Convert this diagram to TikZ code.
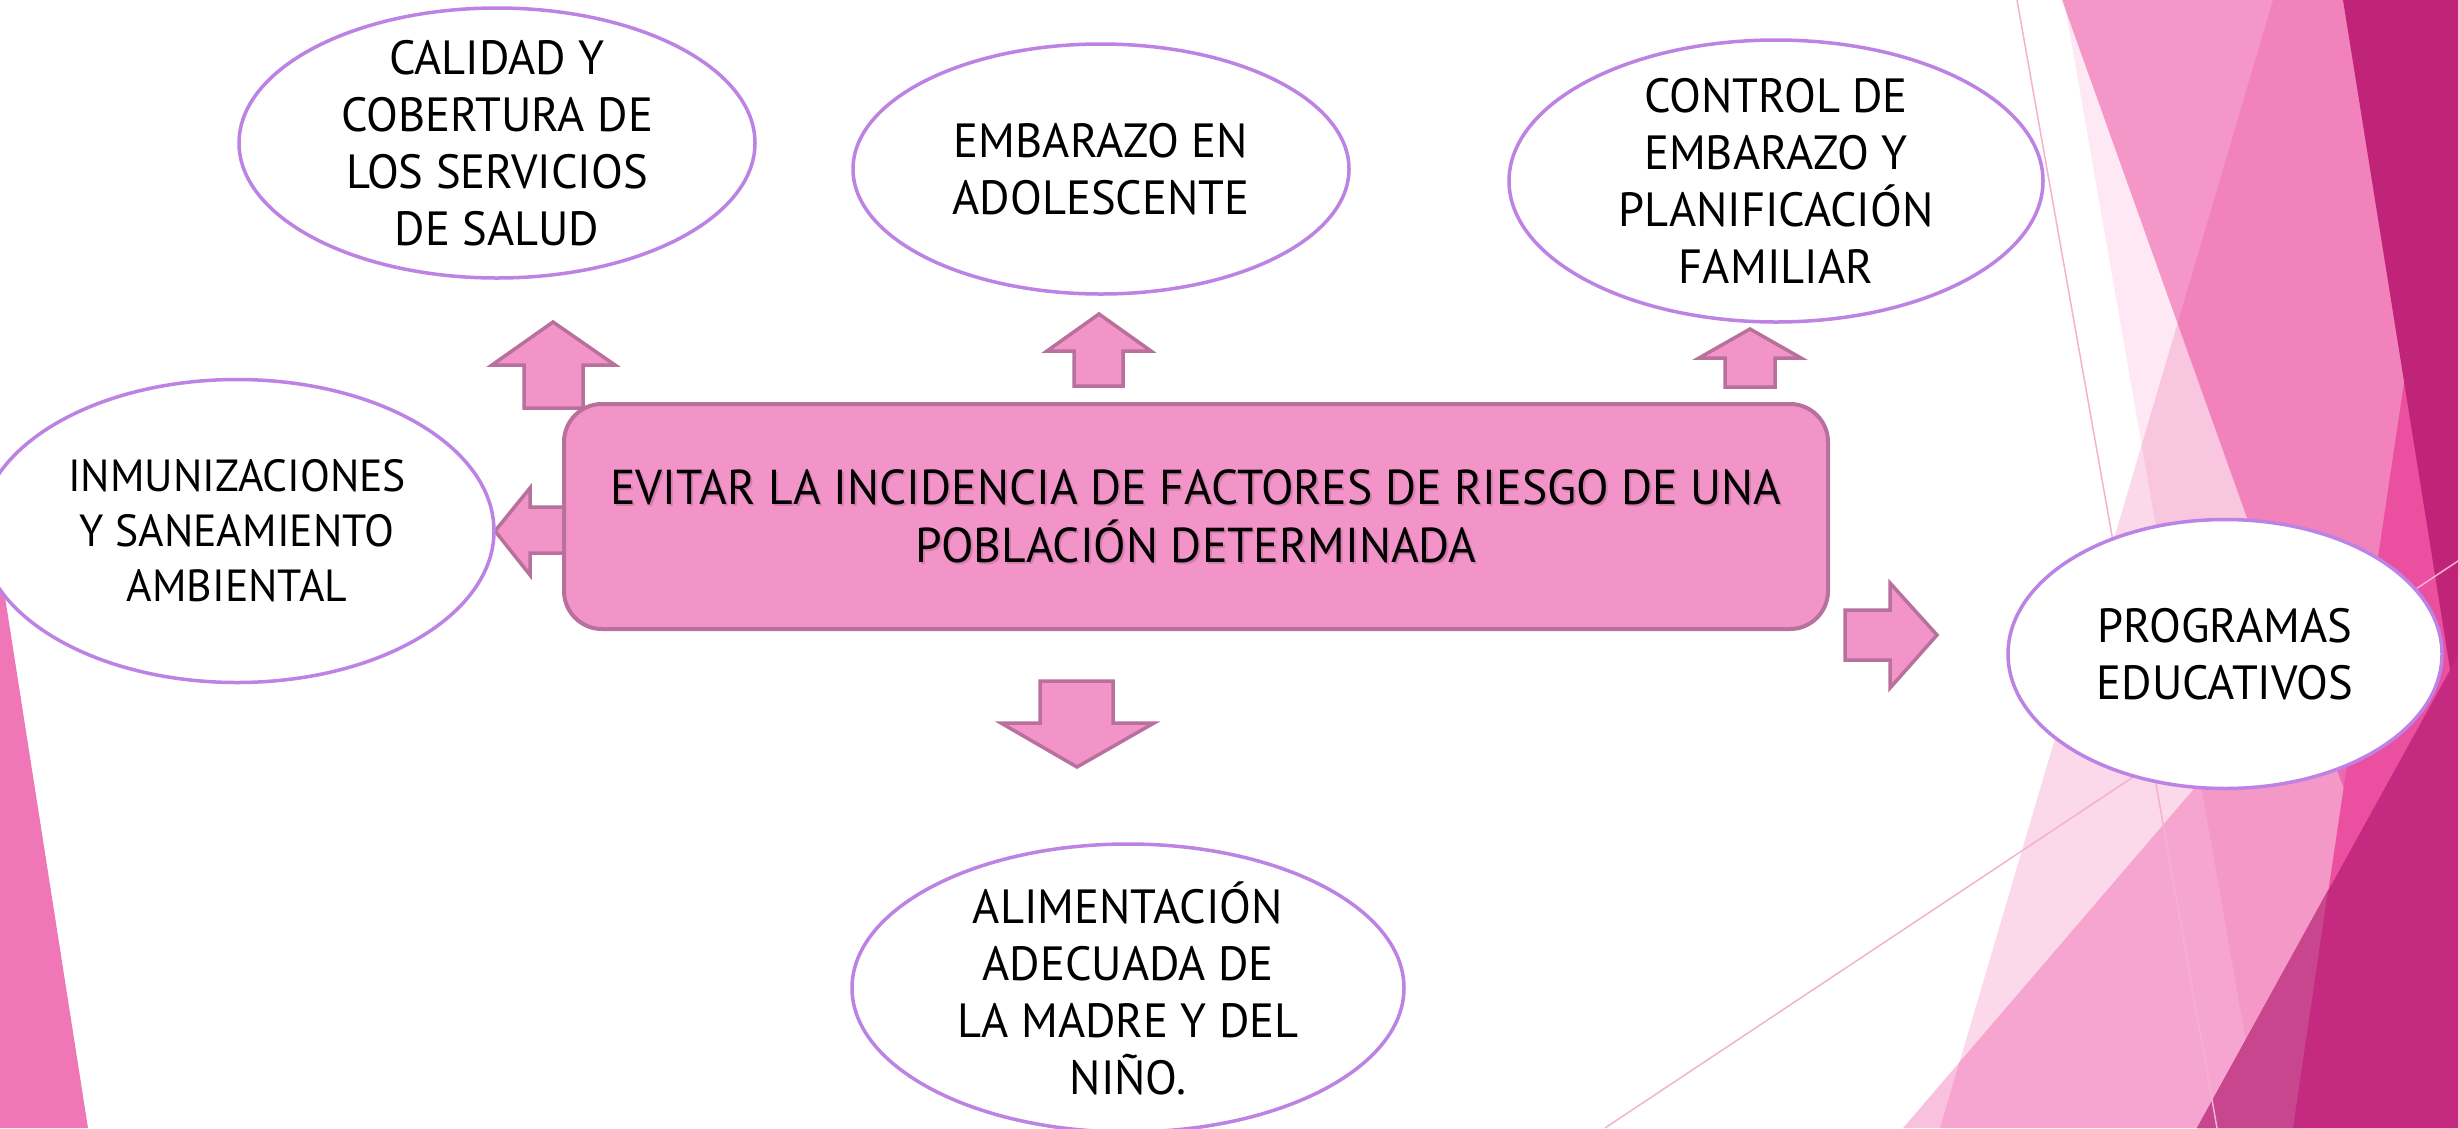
\documentclass[tikz,border=0pt]{standalone}
\usepackage{fontspec}
\setmainfont{PT Sans}[FakeStretch=0.97]
\usetikzlibrary{shapes.geometric}
\definecolor{ellborder}{RGB}{188,130,228}
\definecolor{boxfill}{RGB}{243,148,200}
\definecolor{boxborder}{RGB}{184,112,156}
\definecolor{pinkbase}{RGB}{232,40,140}
\definecolor{hotpink}{RGB}{234,79,160}
\definecolor{darkmag}{RGB}{191,36,121}
\definecolor{magB}{RGB}{196,42,127}
\definecolor{magC}{RGB}{200,70,142}
\definecolor{leftpink}{RGB}{239,119,184}
\definecolor{thinline}{RGB}{245,176,211}
\definecolor{txtshadow}{RGB}{196,110,160}
\begin{document}
\begin{tikzpicture}[x=1pt,y=-1pt,
  oval/.style={ellipse, draw=ellborder, line width=3.5pt, fill=white, inner sep=0pt},
  lbl/.style={font=\fontsize{48}{57}\selectfont, align=center, text=black, inner sep=0pt},
  mainlbl/.style={font=\fontsize{49}{58}\selectfont, align=center, text=black, inner sep=0pt},
  blockarrow/.style={draw=boxborder, fill=boxfill, line width=3.5pt, line join=miter},
  mainbox/.style={draw=boxborder, fill=boxfill, line width=4pt, rounded corners=38pt, inner sep=0pt}
]
\useasboundingbox (0,0) rectangle (2458,1128);
% ---------- background facets ----------
\begin{scope}
\clip (0,0) rectangle (2458,1128);
\fill[leftpink] (0,565) -- (88,1128) -- (0,1128) -- cycle;
\fill[pinkbase, fill opacity=0.18] (2273,0) -- (2470,0) -- (2470,1128) -- (1940,1128) -- cycle;
\fill[pinkbase, fill opacity=0.107] (2064,0) -- (2470,0) -- (2470,1128) -- (2261,1128) -- cycle;
\fill[pinkbase, fill opacity=0.427] (2062,0) -- (2470,0) -- (2470,1128) -- (2465,1128) -- cycle;
\fill[pinkbase, fill opacity=0.29] (1903,1128) -- (2470,467) -- (2470,1128) -- cycle;
\fill[hotpink] (2461,0) -- (2470,0) -- (2470,1128) -- (2293,1128) -- cycle;
\fill[darkmag] (2343,0) -- (2470,0) -- (2470,794) -- cycle;
\fill[magB] (2197,1128) -- (2470,634) -- (2470,1128) -- cycle;
\fill[magC] (2197,1128) -- (2293,1128) -- (2328,890) -- cycle;
\draw[thinline, line width=1.5pt] (2017,0) -- (2217,1128);
\draw[thinline, line width=1.5pt] (1605,1128) -- (2470,553);
\end{scope}
% ---------- block arrows ----------
\draw[blockarrow] (553,322) -- (615,365) -- (583,365) -- (583,408) -- (524,408) -- (524,365) -- (492,365) -- cycle;
\draw[blockarrow] (1099,314) -- (1151,351) -- (1123,351) -- (1123,386) -- (1074,386) -- (1074,351) -- (1047,351) -- cycle;
\draw[blockarrow] (1750,329) -- (1801,358) -- (1775,358) -- (1775,387) -- (1725,387) -- (1725,358) -- (1699,358) -- cycle;
\draw[blockarrow] (495,531) -- (530,488) -- (530,507) -- (566,507) -- (566,553) -- (530,553) -- (530,575) -- cycle;
\draw[blockarrow] (1077,767) -- (1154,723) -- (1113,723) -- (1113,681) -- (1040,681) -- (1040,723) -- (1001,723) -- cycle;
\draw[blockarrow] (1937,635) -- (1890,583) -- (1890,610) -- (1845,610) -- (1845,660) -- (1890,660) -- (1890,688) -- cycle;
% ---------- central box ----------
\node[mainbox, minimum width=1264pt, minimum height=225pt] (main) at (1196,516.5) {};
\node[mainlbl, text=txtshadow, opacity=0.6] (mainshadow) at ([shift={(2,2)}]main.center) {EVITAR LA INCIDENCIA DE FACTORES DE RIESGO DE UNA\\POBLACIÓN DETERMINADA};
\node[mainlbl] (maintxt) at (main.center) {EVITAR LA INCIDENCIA DE FACTORES DE RIESGO DE UNA\\POBLACIÓN DETERMINADA};
% ---------- ellipses ----------
\node[oval, minimum width=516pt, minimum height=270pt] (calidad) at (497,143) {};
\node[lbl] (calidadtxt) at (calidad.center) {CALIDAD Y\\COBERTURA DE\\LOS SERVICIOS\\DE SALUD};
\node[oval, minimum width=496pt, minimum height=250pt] (embarazo) at (1101,169) {};
\node[lbl] (embarazotxt) at (embarazo.center) {EMBARAZO EN\\ADOLESCENTE};
\node[oval, minimum width=534pt, minimum height=282pt] (control) at (1776,181) {};
\node[lbl] (controltxt) at (control.center) {CONTROL DE\\EMBARAZO Y\\PLANIFICACIÓN\\FAMILIAR};
\node[oval, minimum width=514pt, minimum height=303pt] (inmun) at (237,531) {};
\node[lbl, font=\fontsize{45}{55}\selectfont] (inmuntxt) at (inmun.center) {INMUNIZACIONES\\Y SANEAMIENTO\\AMBIENTAL};
\node[oval, minimum width=434pt, minimum height=269pt] (prog) at (2225,654) {};
\node[lbl] (progtxt) at (prog.center) {PROGRAMAS\\EDUCATIVOS};
\node[oval, minimum width=552pt, minimum height=288pt] (alim) at (1128,988) {};
\node[lbl] (alimtxt) at (alim.center) {ALIMENTACIÓN\\ADECUADA DE\\LA MADRE Y DEL\\NIÑO.};
\end{tikzpicture}
\end{document}
